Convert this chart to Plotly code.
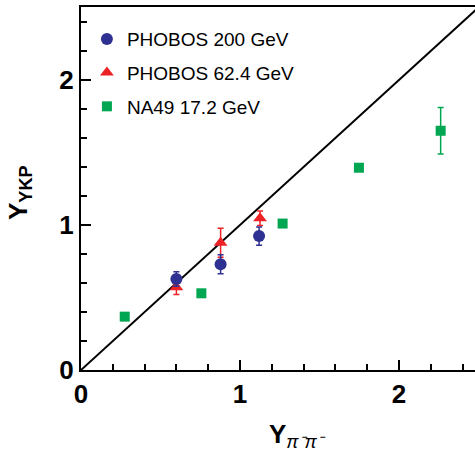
import plotly.graph_objects as go

# PHOBOS 200 GeV
p200_x = [0.60, 0.878, 1.12]
p200_y = [0.628, 0.729, 0.924]
p200_err = [0.05, 0.065, 0.063]

# PHOBOS 62.4 GeV
p62_x = [0.60, 0.878, 1.126]
p62_y = [0.57, 0.878, 1.046]
p62_err = [0.05, 0.10, 0.05]

# NA49 17.2 GeV
na_x = [0.275, 0.757, 1.268, 1.748, 2.262]
na_y = [0.368, 0.529, 1.01, 1.395, 1.65]
na_err = [0, 0, 0, 0, 0.16]

diag = [0, 2.6]

BLUE = "#2e3192"
RED = "#ec2227"
GREEN = "#00a651"

fig = go.Figure()
fig.add_trace(go.Scatter(x=diag, y=diag, mode="lines", line=dict(color="black", width=2),
                         showlegend=False, hoverinfo="skip"))
fig.add_trace(go.Scatter(x=na_x, y=na_y, mode="markers", name="NA49 17.2 GeV",
                         marker=dict(symbol="square", size=10, color=GREEN),
                         error_y=dict(type="data", array=na_err, color=GREEN, thickness=1.5, width=3),
                         legendrank=3, legendgroup="c"))
fig.add_trace(go.Scatter(x=p62_x, y=p62_y, mode="markers", name="PHOBOS 62.4 GeV",
                         marker=dict(symbol="triangle-up", size=12, color=RED),
                         error_y=dict(type="data", array=p62_err, color=RED, thickness=1.5, width=3),
                         legendrank=2, legendgroup="b"))
fig.add_trace(go.Scatter(x=p200_x, y=p200_y, mode="markers", name="PHOBOS 200 GeV",
                         marker=dict(symbol="circle", size=12, color=BLUE),
                         error_y=dict(type="data", array=p200_err, color=BLUE, thickness=1.5, width=3),
                         legendrank=1, legendgroup="a"))

W, H = 475, 453
L, R, T, B = 81, 0, 7, 83

fig.update_layout(
    width=W, height=H,
    margin=dict(l=L, r=R, t=T, b=B, autoexpand=False),
    paper_bgcolor="white", plot_bgcolor="white",
    font=dict(family="Liberation Sans, Arial, sans-serif", color="black"),
    showlegend=True,
    legend=dict(x=0.015, y=0.964, xanchor="left", yanchor="top",
                font=dict(size=19, color="black"), bgcolor="rgba(0,0,0,0)",
                tracegroupgap=6, itemwidth=30, traceorder="grouped"),
    xaxis=dict(range=[0, 394 / 159], showgrid=False, zeroline=False, automargin=False,
               showline=True, linecolor="black", linewidth=2, mirror=True,
               tickmode="array", tickvals=[0, 1, 2], ticktext=["<b>0</b>", "<b>1</b>", "<b>2</b>"],
               ticks="inside", ticklen=10, tickwidth=1.5, tickcolor="black",
               tickfont=dict(size=26, family="Liberation Sans, Arial"),
               minor=dict(dtick=0.2, tick0=0, ticks="inside", ticklen=6, tickwidth=1.5, tickcolor="black")),
    yaxis=dict(range=[0, 363 / 145], showgrid=False, zeroline=False, automargin=False,
               showline=True, linecolor="black", linewidth=2, mirror=False,
               tickmode="array", tickvals=[0, 1, 2], ticktext=["<b>0</b>", "<b>1</b>", "<b>2</b>"],
               ticks="inside", ticklen=10, tickwidth=1.5, tickcolor="black",
               tickfont=dict(size=26, family="Liberation Sans, Arial"),
               minor=dict(dtick=0.2, tick0=0, ticks="inside", ticklen=6, tickwidth=1.5, tickcolor="black")),
    annotations=[
        dict(text="<b>Y<sub>YKP</sub></b>", xref="paper", yref="paper",
             x=-(L - 19) / (W - L - R), y=(370 - 193) / (370 - T), xanchor="center", yanchor="middle",
             textangle=-90, showarrow=False, font=dict(size=26, color="black")),
        dict(text="<b>Y</b><sub><i>π⁻π⁻</i></sub>", xref="paper", yref="paper",
             x=(297 - L) / (W - L - R), y=-(435 - 370) / (370 - T), xanchor="center", yanchor="middle",
             showarrow=False, font=dict(size=26, color="black")),
    ],
)

fig.write_html("out.html", config={"displayModeBar": False},
               post_script="document.body.style.margin='0';document.body.style.overflow='hidden';")
